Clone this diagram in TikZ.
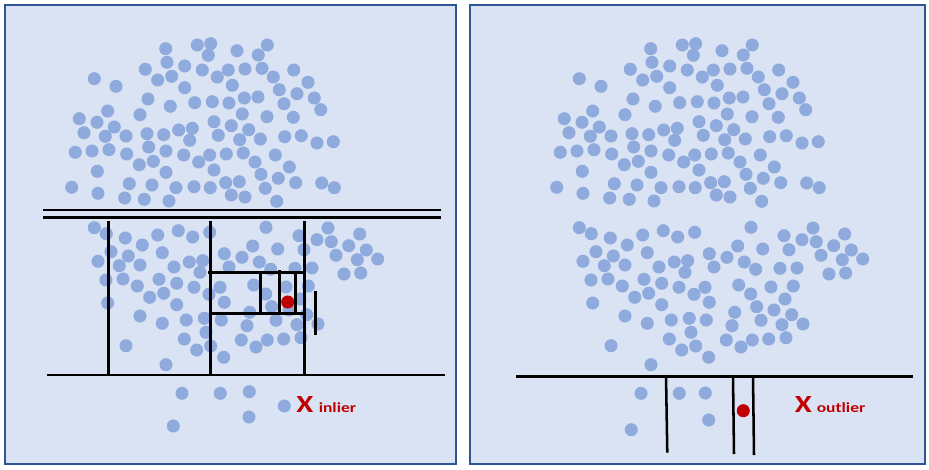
\documentclass[tikz,border=0pt]{standalone}
\usepackage{tikz}
\usepackage{fontspec}
\newfontfamily\lblfont[FakeStretch=1.25]{Carlito}

\definecolor{panelfill}{RGB}{218,227,243}
\definecolor{panelframe}{RGB}{47,85,151}
\definecolor{ptblue}{RGB}{143,170,220}
\definecolor{ptred}{RGB}{192,0,0}

% data points shared by both panels (left panel coordinates)
\newcommand{\cloudpts}{%
165.7/48.7, 197.3/45, 210.7/43.7, 208.3/55.3, 237/50.7, 258.3/55, 267.3/45,
167/62.3, 184.7/66, 145.3/69.3, 202.3/70, 228.3/70, 245/69, 262/68.3, 293.7/70,
94.3/78.7, 116/86.3, 157.7/80, 171.7/76.3, 217.3/77, 232.3/85.3, 273.3/77, 308/82.3,
184.7/87.7, 279.3/89.7, 297/93.7, 314.3/98, 148/99, 194.7/102.7, 212.3/101.7, 229/103,
244.3/98, 258/97, 284/103.7, 320.7/109.7, 170.3/106.3,
107.7/111, 140/114.7, 242.3/114, 267/116.7, 293.3/117.3, 79.3/118.7, 97/122.3, 214/121.7,
231.3/125.7, 114.3/127,
84/132.7, 105.3/136.3, 126/136, 147/133.7, 163.7/134.7, 178.7/130, 192.3/128.3, 189.7/140.3,
218.3/135.3, 239.7/139.7, 248.7/129.7, 260.3/139, 284.7/136.7, 301.3/135.7, 317/143, 333.3/141.7,
75.3/152.3, 92/151, 109/149.7, 126.7/154, 148.7/147, 166/151, 183.7/155, 209.7/155, 226.3/154,
243.3/153, 275.3/155,
139.3/164.7, 153.3/161.3, 198.7/162, 255/162, 289.3/167, 97.3/171.3, 166/172.3, 214/170,
261/174.3, 278.3/178.3,
71.7/187.3, 98/193.3, 129.3/183.7, 152/185, 176/187.7, 194/186.7, 210.3/187.7, 225.7/182.7,
239.3/181.7, 295.7/182.7, 321.7/183, 334.3/187.7, 265.3/188.3,
124.7/198, 144.3/199.3, 169/201, 231.3/195, 245/197, 276.7/201.3,
94.3/227.7, 106.3/233.7, 125.3/238, 157.7/235, 178.3/230.7, 192.7/237, 209.7/232.3, 266/227.3,
299/235.7, 328/228, 317/239.7, 331.3/241.7, 359.7/234, 348.7/245.7, 366.3/250, 377.7/259,
357.3/259.7, 336/255.3, 344/274, 360.7/273,
142.3/245, 111/251.7, 128.3/256, 162.3/252.7, 98/261.3, 119.3/265.7, 140/265, 174/267,
189.3/262, 202.7/260.7, 200/272.3, 224.3/253.7, 242/257.3, 252.7/246, 277.7/249, 304/249.7,
259.3/262, 229/267, 270.7/269.3, 295/268.3, 312/268,
106/280, 123/279, 137.3/286, 159/279.3, 176.7/283.3, 194/287.3, 149.7/297.3, 163.7/293.3,
209/294.3, 220/287.3, 224.3/302.3, 253.7/285, 265.7/294, 286/287, 308.3/286, 300/299,
107.7/303, 176.7/304.7, 271.7/306.7, 289/310,
140/316, 162.3/323.3, 186.3/320, 204.3/318.3, 221.3/320, 249.7/312.3, 276/320.3, 297/324.7,
306.7/314.7, 318/324, 247/325.7, 206/332.3, 184.3/339, 196.7/350, 210.7/346, 223.7/357.3,
241.3/340, 256/347, 267.3/340, 283.7/339, 301/337.7, 126/345.7, 166/364.7}

\begin{document}
\begin{tikzpicture}[x=0.75pt,y=0.75pt,yscale=-1,xscale=1,
	panel/.style={fill=panelfill,draw=panelframe,line width=1.5pt},
	pt/.style={fill=ptblue},
	hit/.style={fill=ptred},
	cut/.style={line width=1.9pt,draw=black},
	bigx/.style={inner sep=0pt,anchor=base west,text=ptred,font=\lblfont\bfseries\fontsize{18.5}{18.5}\selectfont},
	tag/.style={inner sep=0pt,anchor=base west,text=ptred,font=\lblfont\bfseries\fontsize{10.5}{10.5}\selectfont}]
	\path[use as bounding box] (0,0) rectangle (929,469);
	
	%Shape: Rectangle [id:panel_inlier]
	\draw [panel] (5,5) rectangle (456,464);
	%Shape: Rectangle [id:panel_outlier]
	\draw [panel] (470,5) rectangle (925,464);
	
	%Shape: Circles, left panel
	\foreach \px/\py in \cloudpts {
		\fill [pt] (\px,\py) circle [radius=4.9pt];
	}
	\foreach \px/\py in {182/393.3, 220.3/393.3, 249.3/391.7, 249/417, 173.3/426, 284.3/406} {
		\fill [pt] (\px,\py) circle [radius=4.9pt];
	}
	%Shape: Circle [id:red_inlier]
	\fill [hit] (287.7,302) circle [radius=4.9pt];
	
	%Straight Lines, first splits
	\draw [cut] (43.3,210) -- (441,210) ;
	\draw [cut] (43.3,217.3) -- (441,217.3) ;
	\draw [cut] (47.3,375) -- (445,375) ;
	\draw [cut] (108.3,220.7) -- (108.3,375) ;
	\draw [cut] (210.3,220.7) -- (210.3,375) ;
	\draw [cut] (304.3,220.7) -- (304.3,375) ;
	%Straight Lines, inner box
	\draw [cut] (208,272.3) -- (303.3,272.3) ;
	\draw [cut] (208.7,313.7) -- (303.3,313.7) ;
	\draw [cut] (260.3,272) -- (260.3,315.3) ;
	\draw [cut] (279.3,270.3) -- (279.3,313.7) ;
	\draw [cut] (295.3,272) -- (295.3,313.7) ;
	\draw [cut] (315.3,291.3) -- (315.3,335) ;
	
	% Text Node
	\node (xin) [bigx] at (296,412.7) {X};
	% Text Node
	\node (inl) [tag] at (318.5,412.7) {inlier};
	
	%Shape: Circles, right panel
	\begin{scope}[xshift=363.75pt]
		\foreach \px/\py in \cloudpts {
			\fill [pt] (\px,\py) circle [radius=4.9pt];
		}
	\end{scope}
	\foreach \px/\py in {641/393.3, 679.3/393.3, 705.3/393, 708.7/420, 631.3/429.7} {
		\fill [pt] (\px,\py) circle [radius=4.9pt];
	}
	%Shape: Circle [id:red_outlier]
	\fill [hit] (743.3,410.7) circle [radius=4.9pt];
	
	%Straight Lines, few splits
	\draw [cut] (515.7,376.3) -- (913,376.3) ;
	\draw [cut] (666,375) -- (667.3,452.7) ;
	\draw [cut] (733,375.5) -- (734,454) ;
	\draw [cut] (753,375.5) -- (754,455) ;
	
	% Text Node
	\node (xout) [bigx] at (794.5,412.7) {X};
	% Text Node
	\node (outl) [tag] at (816.5,412.7) {outlier};
	
\end{tikzpicture}
\end{document}
